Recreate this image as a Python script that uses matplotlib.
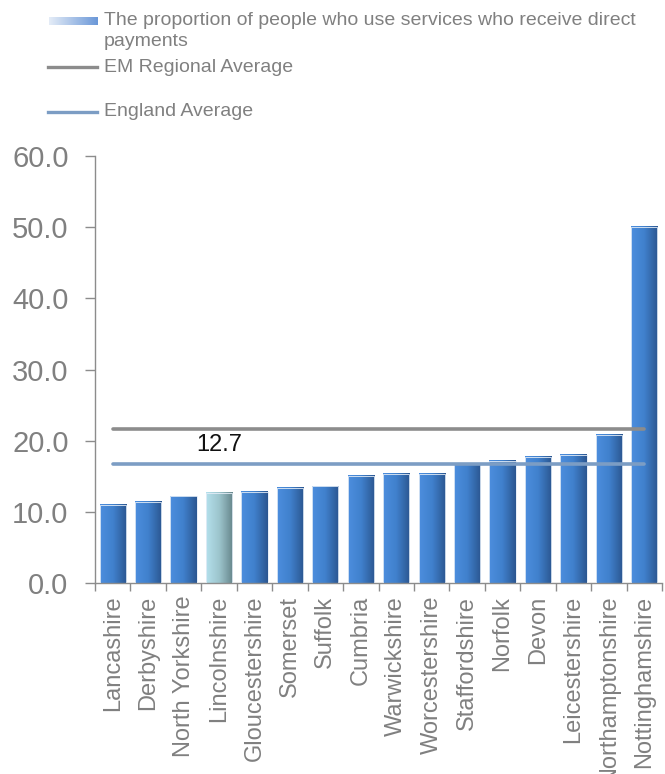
import numpy as np
import matplotlib
matplotlib.use("Agg")
import matplotlib.pyplot as plt
from matplotlib.colors import LinearSegmentedColormap
from matplotlib.lines import Line2D

plt.rcParams['font.family'] = ['Liberation Sans', 'DejaVu Sans']

# Data
counties = ["Lancashire", "Derbyshire", "North Yorkshire", "Lincolnshire",
            "Gloucestershire", "Somerset", "Suffolk", "Cumbria", "Warwickshire",
            "Worcestershire", "Staffordshire", "Norfolk", "Devon",
            "Leicestershire", "Northamptonshire", "Nottinghamshire"]
direct_payments = [11.0, 11.4, 12.2, 12.7, 12.8, 13.4, 13.6, 15.1, 15.4,
                   15.4, 16.7, 17.2, 17.8, 18.0, 20.8, 50.1]
em_regional_avg = 21.6
england_avg = 16.8
highlight = "Lincolnshire"
y_ticks = [0, 10, 20, 30, 40, 50, 60]

legend_labels = ["The proportion of people who use services who receive direct\npayments",
                 "EM Regional Average", "England Average"]

W, H = 665, 774
fig = plt.figure(figsize=(W / 100, H / 100), dpi=100)
ax = fig.add_axes([95 / W, 1 - 583.3 / H, 567 / W, 427.3 / H])

x = np.arange(len(counties))
bar_w = 0.74

blue_cmap = LinearSegmentedColormap.from_list("bl", ["#4d8ede", "#4080cc", "#2b5791"])
hl_cmap = LinearSegmentedColormap.from_list("hl", ["#b4e0ec", "#9cc4cc", "#67878c"])
grad = np.linspace(0, 1, 64).reshape(1, -1)

bars = ax.bar(x, direct_payments, width=bar_w, color="none",
              edgecolor="#e4edf7", linewidth=0.6, zorder=3)
for name, b in zip(counties, bars):
    cmap = hl_cmap if name == highlight else blue_cmap
    x0, w, h = b.get_x(), b.get_width(), b.get_height()
    ax.imshow(grad, cmap=cmap, extent=[x0, x0 + w, 0, h], aspect="auto",
              zorder=2, interpolation="bilinear")

ax.plot([x[0], x[-1]], [em_regional_avg] * 2, color="#8c8c8c", lw=2.6,
        solid_capstyle="round", zorder=4)
ax.plot([x[0], x[-1]], [england_avg] * 2, color="#7c9dc4", lw=2.6,
        solid_capstyle="round", zorder=4)

hi = counties.index(highlight)
ax.text(x[hi], 19.4, f"{direct_payments[hi]:.1f}", ha="center", va="center",
        fontsize=17, color="#111111", zorder=5)

ax.set_xlim(-0.5, len(counties) - 0.5)
ax.set_ylim(0, 60)
ax.set_yticks(y_ticks)
ax.set_yticklabels([f"{v:.1f}" for v in y_ticks])
ax.set_xticks(x)
ax.set_xticklabels(counties, rotation=90)
ax.set_xticks(np.arange(-0.5, len(counties)), minor=True)

for s in ["top", "right"]:
    ax.spines[s].set_visible(False)
for s in ["left", "bottom"]:
    ax.spines[s].set_color("#8c8c8c")
    ax.spines[s].set_linewidth(1.0)

ax.tick_params(axis="y", length=7, width=1.0, color="#8c8c8c",
               labelsize=21, labelcolor="#808080", pad=12)
ax.tick_params(axis="x", which="major", length=0, labelsize=17,
               labelcolor="#808080", pad=9)
ax.tick_params(axis="x", which="minor", length=6, width=1.0, color="#8c8c8c")

# Legend
lax = fig.add_axes([49 / W, 1 - 25 / H, 49 / W, 8 / H])
lax.imshow(grad, cmap=LinearSegmentedColormap.from_list("lg", ["#e4ecf7", "#6b98d8"]),
           aspect="auto", extent=[0, 1, 0, 1])
lax.axis("off")
fig.add_artist(Line2D([48 / W, 97 / W], [1 - 67 / H] * 2, color="#8c8c8c", lw=2.4,
                      transform=fig.transFigure))
fig.add_artist(Line2D([48 / W, 97 / W], [1 - 112 / H] * 2, color="#7c9dc4", lw=2.4,
                      transform=fig.transFigure))
fig.text(104 / W, 1 - 31 / H, legend_labels[0], ha="left", va="center",
         fontsize=14, color="#808080", linespacing=1.25)
fig.text(104 / W, 1 - 67 / H, legend_labels[1], ha="left", va="center",
         fontsize=14, color="#808080")
fig.text(104 / W, 1 - 112 / H, legend_labels[2], ha="left", va="center",
         fontsize=14, color="#808080")

fig.savefig("out.png", dpi=100)
